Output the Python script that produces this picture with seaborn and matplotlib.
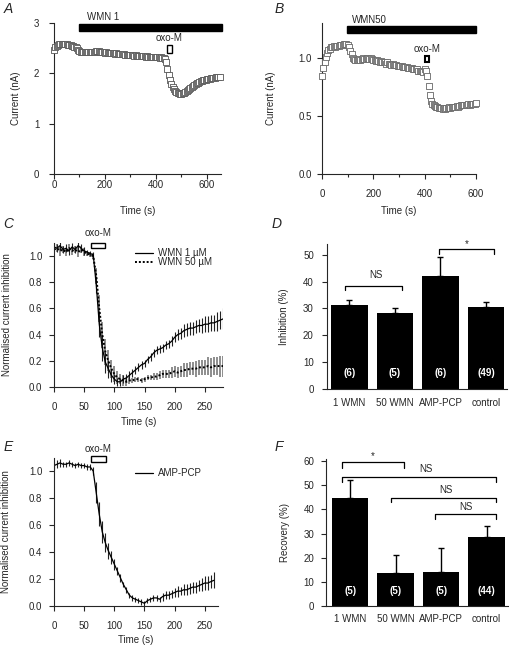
import numpy as np
import seaborn as sns
import matplotlib.pyplot as plt
from matplotlib.patches import Rectangle
from matplotlib.ticker import MultipleLocator

sns.set_style("ticks")
plt.rcParams['font.family'] = ['Liberation Sans', 'DejaVu Sans']
plt.rcParams['font.size'] = 7
plt.rcParams['axes.linewidth'] = 0.8

# ---- data ----
# A: WMN 1, current (nA), one sample every 5 s
a_time = np.arange(0, 651, 5)
a_current = [2.47, 2.52, 2.55, 2.57, 2.58, 2.59, 2.59, 2.59, 2.58, 2.58,
             2.58, 2.57, 2.57, 2.56, 2.55, 2.54, 2.53, 2.52, 2.50, 2.47,
             2.44, 2.43, 2.42, 2.42, 2.42, 2.42, 2.43, 2.42, 2.42, 2.42,
             2.42, 2.43, 2.43, 2.44, 2.45, 2.44, 2.43, 2.43, 2.42, 2.42,
             2.41, 2.42, 2.41, 2.40, 2.41, 2.40, 2.40, 2.40, 2.39, 2.40,
             2.39, 2.38, 2.39, 2.38, 2.38, 2.38, 2.37, 2.37, 2.37, 2.36,
             2.37, 2.36, 2.36, 2.35, 2.36, 2.35, 2.35, 2.34, 2.35, 2.34,
             2.34, 2.34, 2.33, 2.34, 2.33, 2.33, 2.33, 2.33, 2.32, 2.33,
             2.32, 2.32, 2.32, 2.31, 2.32, 2.31, 2.31, 2.29, 2.22, 2.08,
             1.96, 1.86, 1.78, 1.72, 1.68, 1.65, 1.62, 1.61, 1.60, 1.59,
             1.59, 1.60, 1.61, 1.63, 1.65, 1.67, 1.69, 1.71, 1.73, 1.75,
             1.77, 1.78, 1.80, 1.81, 1.82, 1.84, 1.85, 1.86, 1.87, 1.87,
             1.88, 1.89, 1.89, 1.90, 1.90, 1.91, 1.91, 1.92, 1.92, 1.93,
             1.93]

# B: WMN50, current (nA), one sample every 5 s
b_time = np.arange(0, 601, 5)
b_current = [0.84, 0.91, 0.96, 1.01, 1.04, 1.07, 1.08, 1.09, 1.09, 1.10,
             1.09, 1.10, 1.10, 1.10, 1.11, 1.11, 1.11, 1.12, 1.12, 1.12,
             1.11, 1.09, 1.06, 1.03, 1.00, 0.99, 0.98, 0.98, 0.98, 0.99,
             0.98, 0.99, 1.00, 0.99, 0.99, 1.00, 1.00, 0.99, 1.00, 0.99,
             0.98, 0.98, 0.97, 0.98, 0.97, 0.96, 0.97, 0.96, 0.96, 0.96,
             0.95, 0.96, 0.95, 0.95, 0.94, 0.95, 0.94, 0.94, 0.94, 0.93,
             0.93, 0.93, 0.93, 0.92, 0.92, 0.92, 0.92, 0.91, 0.91, 0.91,
             0.91, 0.90, 0.90, 0.90, 0.90, 0.89, 0.89, 0.89, 0.89, 0.88,
             0.90, 0.89, 0.84, 0.76, 0.68, 0.63, 0.60, 0.59, 0.585, 0.58,
             0.575, 0.57, 0.57, 0.565, 0.56, 0.565, 0.56, 0.565, 0.57, 0.575,
             0.57, 0.58, 0.575, 0.58, 0.58, 0.585, 0.58, 0.585, 0.59, 0.59,
             0.59, 0.595, 0.59, 0.595, 0.60, 0.595, 0.60, 0.60, 0.60, 0.605,
             0.61]

# C: normalised current inhibition, mean and s.e.m., every 5 s
c_time = np.arange(0, 281, 5)
c_wmn1 = [1.07, 1.06, 1.08, 1.05, 1.06, 1.04, 1.07, 1.05, 1.08, 1.06,
          1.04, 1.03, 1.02, 1.01, 0.78, 0.48, 0.30, 0.19, 0.14, 0.09,
          0.06, 0.04, 0.04, 0.06, 0.07, 0.09, 0.11, 0.13, 0.15, 0.17,
          0.18, 0.21, 0.23, 0.26, 0.28, 0.29, 0.30, 0.32, 0.33, 0.35,
          0.38, 0.40, 0.41, 0.43, 0.44, 0.45, 0.45, 0.46, 0.47, 0.47,
          0.48, 0.48, 0.49, 0.49, 0.50, 0.51, 0.52]
c_wmn1_err = [0.03, 0.03, 0.03, 0.03, 0.03, 0.03, 0.03, 0.03, 0.04, 0.03,
              0.03, 0.02, 0.02, 0.02, 0.06, 0.10, 0.10, 0.08, 0.07, 0.05,
              0.04, 0.03, 0.03, 0.03, 0.03, 0.03, 0.03, 0.03, 0.03, 0.03,
              0.03, 0.03, 0.03, 0.03, 0.03, 0.03, 0.03, 0.03, 0.03, 0.04,
              0.04, 0.04, 0.04, 0.05, 0.05, 0.05, 0.05, 0.05, 0.05, 0.06,
              0.06, 0.06, 0.06, 0.06, 0.07, 0.07, 0.08]
c_wmn50 = [1.05, 1.06, 1.04, 1.05, 1.03, 1.06, 1.04, 1.05, 1.03, 1.05,
           1.03, 1.02, 1.01, 1.00, 0.85, 0.60, 0.40, 0.27, 0.20, 0.14,
           0.10, 0.07, 0.06, 0.05, 0.04, 0.05, 0.05, 0.06, 0.06, 0.05,
           0.06, 0.07, 0.07, 0.08, 0.08, 0.09, 0.10, 0.10, 0.10, 0.11,
           0.12, 0.11, 0.12, 0.13, 0.13, 0.14, 0.14, 0.14, 0.15, 0.15,
           0.15, 0.16, 0.15, 0.16, 0.16, 0.16, 0.16]
c_wmn50_err = [0.03, 0.03, 0.04, 0.03, 0.03, 0.03, 0.03, 0.03, 0.04, 0.03,
               0.03, 0.02, 0.02, 0.02, 0.06, 0.10, 0.10, 0.10, 0.08, 0.07,
               0.06, 0.05, 0.04, 0.04, 0.03, 0.03, 0.02, 0.02, 0.02, 0.02,
               0.02, 0.02, 0.02, 0.03, 0.03, 0.03, 0.03, 0.03, 0.03, 0.04,
               0.04, 0.04, 0.04, 0.05, 0.05, 0.05, 0.05, 0.06, 0.06, 0.06,
               0.06, 0.07, 0.07, 0.07, 0.07, 0.08, 0.08]

# E: AMP-PCP, mean and s.e.m., every 5 s
e_time = np.arange(0, 266, 5)
e_amp = [1.04, 1.05, 1.06, 1.05, 1.05, 1.06, 1.05, 1.04, 1.05, 1.04,
         1.04, 1.03, 1.03, 1.00, 0.84, 0.68, 0.55, 0.47, 0.41, 0.36,
         0.31, 0.26, 0.21, 0.16, 0.12, 0.08, 0.06, 0.05, 0.04, 0.03,
         0.02, 0.04, 0.05, 0.06, 0.06, 0.05, 0.07, 0.08, 0.08, 0.09,
         0.10, 0.11, 0.11, 0.12, 0.12, 0.13, 0.14, 0.14, 0.15, 0.16,
         0.17, 0.17, 0.18, 0.19]
e_amp_err = [0.03, 0.03, 0.03, 0.02, 0.02, 0.02, 0.02, 0.02, 0.02, 0.02,
             0.02, 0.02, 0.02, 0.03, 0.08, 0.09, 0.08, 0.07, 0.06, 0.05,
             0.04, 0.03, 0.03, 0.02, 0.02, 0.02, 0.02, 0.02, 0.02, 0.02,
             0.02, 0.02, 0.02, 0.02, 0.02, 0.02, 0.03, 0.03, 0.03, 0.03,
             0.03, 0.04, 0.03, 0.04, 0.04, 0.04, 0.04, 0.04, 0.04, 0.05,
             0.05, 0.05, 0.05, 0.06]

# D / F: bar summaries
groups = ['1 WMN', '50 WMN', 'AMP-PCP', 'control']
inhibition = [31.3, 28.3, 42.0, 30.6]
inhibition_err = [1.7, 1.9, 7.2, 1.7]
inhibition_n = ['(6)', '(5)', '(6)', '(49)']
recovery = [44.5, 13.8, 14.0, 28.5]
recovery_err = [7.5, 7.5, 10.0, 4.5]
recovery_n = ['(5)', '(5)', '(5)', '(44)']

# ---- figure ----
W, H = 510, 646
fig = plt.figure(figsize=(W / 100, H / 100), dpi=100)


def px_axes(left, top, right, bottom):
    return fig.add_axes([left / W, 1 - bottom / H, (right - left) / W, (bottom - top) / H])


def style(ax, xpad=7.5, ypad=5):
    sns.despine(ax=ax)
    ax.tick_params(axis='both', which='major', direction='out', length=3.5, width=0.8, labelsize=7)
    ax.tick_params(axis='x', pad=xpad)
    ax.tick_params(axis='y', pad=ypad)
    ax.tick_params(which='minor', direction='out', length=2.5, width=0.8)


def bracket(ax, x0, x1, y, tip):
    ax.plot([x0, x0, x1, x1], [tip, y, y, tip], color='k', lw=0.9, clip_on=False)


def letter(x, y, s):
    fig.text(x / W, 1 - y / H, s, fontsize=10, style='italic', ha='center', va='center')


# A
ax = px_axes(54, 23, 221, 174)
sns.scatterplot(x=a_time, y=a_current, marker='s', s=13, color='white',
                edgecolor='#555555', linewidth=0.6, ax=ax, zorder=3, clip_on=False)
ax.set_xlim(0, 655)
ax.set_ylim(0, 3)
ax.xaxis.set_major_locator(MultipleLocator(200))
ax.xaxis.set_minor_locator(MultipleLocator(100))
ax.yaxis.set_major_locator(MultipleLocator(1))
style(ax, xpad=1, ypad=7)
ax.add_patch(Rectangle((98, 2.84), 561, 0.15, color='k', clip_on=False))
ax.text(128, 3.12, 'WMN 1', ha='left', va='center', fontsize=7)
ax.add_patch(Rectangle((443, 2.41), 18, 0.15, fill=False, ec='k', lw=1, clip_on=False, zorder=4))
ax.text(453, 2.71, 'oxo-M', ha='center', va='center', fontsize=7)
ax.set_xlabel('Time (s)')
ax.set_ylabel('Current (nA)')
ax.xaxis.set_label_coords(0.5, -0.21)
ax.yaxis.set_label_coords(-0.198, 0.5)

# B
ax = px_axes(322, 23, 476, 174)
sns.scatterplot(x=b_time, y=b_current, marker='s', s=13, color='white',
                edgecolor='#666666', linewidth=0.6, ax=ax, zorder=3, clip_on=False)
ax.set_xlim(0, 600)
ax.set_ylim(0, 1.3)
ax.xaxis.set_major_locator(MultipleLocator(200))
ax.xaxis.set_minor_locator(MultipleLocator(100))
ax.yaxis.set_major_locator(MultipleLocator(0.5))
ax.yaxis.set_major_formatter('{x:.1f}')
style(ax, xpad=7.5, ypad=4)
ax.add_patch(Rectangle((96, 1.218), 503, 0.058, color='k', clip_on=False))
ax.text(115, 1.33, 'WMN50', ha='left', va='center', fontsize=7)
ax.add_patch(Rectangle((400, 0.965), 16, 0.055, fill=False, ec='k', lw=1.5, clip_on=False, zorder=4))
ax.text(408, 1.075, 'oxo-M', ha='center', va='center', fontsize=7)
ax.set_xlabel('Time (s)')
ax.set_ylabel('Current (nA)')
ax.xaxis.set_label_coords(0.5, -0.21)
ax.yaxis.set_label_coords(-0.299, 0.5)

# C
ax = px_axes(54, 243, 223, 387)
ax.errorbar(c_time, c_wmn50, yerr=c_wmn50_err, fmt='none', ecolor='#7a7a7a', elinewidth=1.2)
ax.errorbar(c_time, c_wmn1, yerr=c_wmn1_err, fmt='none', ecolor='#222222', elinewidth=0.8)
sns.lineplot(x=c_time, y=c_wmn50, color='k', lw=1.4, linestyle=(0, (1, 1)), errorbar=None, ax=ax)
sns.lineplot(x=c_time, y=c_wmn1, color='k', lw=0.9, errorbar=None, ax=ax)
ax.set_xlim(0, 280)
ax.set_ylim(0, 1.1)
ax.xaxis.set_major_locator(MultipleLocator(50))
ax.yaxis.set_major_locator(MultipleLocator(0.2))
ax.yaxis.set_major_formatter('{x:.1f}')
style(ax, xpad=7, ypad=5)
ax.add_patch(Rectangle((62, 1.06), 22, 0.037, fill=False, ec='k', lw=1, clip_on=False))
ax.text(73, 1.173, 'oxo-M', ha='center', va='center', fontsize=7)
ax.plot([134, 164], [1.025, 1.025], color='k', lw=0.9)
ax.plot([134, 164], [0.952, 0.952], color='k', lw=1.4, linestyle=(0, (1, 1)))
ax.text(172, 1.025, 'WMN 1 µM', ha='left', va='center', fontsize=7)
ax.text(172, 0.952, 'WMN 50 µM', ha='left', va='center', fontsize=7)
ax.set_xlabel('Time (s)')
ax.set_ylabel('Normalised current inhibition')
ax.xaxis.set_label_coords(0.5, -0.208)
ax.yaxis.set_label_coords(-0.249, 0.5)

# D
ax = px_axes(327, 244, 507, 389)
sns.barplot(x=groups, y=inhibition, color='black', width=0.8, errorbar=None,
            linewidth=0, saturation=1, ax=ax)
ax.errorbar(range(4), inhibition, yerr=[[0] * 4, inhibition_err], fmt='none',
            ecolor='k', elinewidth=1, capsize=2.5, capthick=1)
for i, n in enumerate(inhibition_n):
    ax.text(i, 6, n, color='white', fontweight='bold', ha='center', va='center', fontsize=7)
ax.set_xlim(-0.49, 3.46)
ax.set_ylim(0, 54)
ax.yaxis.set_major_locator(MultipleLocator(10))
style(ax, xpad=6.5, ypad=6)
ax.tick_params(axis='x', length=0)
bracket(ax, -0.09, 1.16, 38.5, 36.7)
ax.text(0.59, 42.4, 'NS', ha='center', va='center', fontsize=7)
bracket(ax, 1.97, 3.18, 52, 50.4)
ax.text(2.57, 54, '*', ha='center', va='center', fontsize=7)
ax.set_ylabel('Inhibition (%)')
ax.set_xlabel('')
ax.yaxis.set_label_coords(-0.211, 0.5)

# E
ax = px_axes(54, 457.5, 218, 606)
ax.errorbar(e_time, e_amp, yerr=e_amp_err, fmt='none', ecolor='#222222', elinewidth=0.8)
sns.lineplot(x=e_time, y=e_amp, color='k', lw=0.9, errorbar=None, ax=ax)
ax.set_xlim(0, 272)
ax.set_ylim(0, 1.1)
ax.xaxis.set_major_locator(MultipleLocator(50))
ax.yaxis.set_major_locator(MultipleLocator(0.2))
ax.yaxis.set_major_formatter('{x:.1f}')
style(ax, xpad=7.5, ypad=5)
ax.add_patch(Rectangle((62, 1.064), 24, 0.047, fill=False, ec='k', lw=1, clip_on=False))
ax.text(73, 1.16, 'oxo-M', ha='center', va='center', fontsize=7)
ax.plot([134, 164], [0.983, 0.983], color='k', lw=0.9)
ax.text(172, 0.983, 'AMP-PCP', ha='left', va='center', fontsize=7)
ax.set_xlabel('Time (s)')
ax.set_ylabel('Normalised current inhibition')
ax.xaxis.set_label_coords(0.5, -0.195)
ax.yaxis.set_label_coords(-0.262, 0.5)

# F
ax = px_axes(326, 458.6, 508, 606)
sns.barplot(x=groups, y=recovery, color='black', width=0.8, errorbar=None,
            linewidth=0, saturation=1, ax=ax)
ax.errorbar(range(4), recovery, yerr=[[0] * 4, recovery_err], fmt='none',
            ecolor='k', elinewidth=1, capsize=2.5, capthick=1)
for i, n in enumerate(recovery_n):
    ax.text(i, 6.2, n, color='white', fontweight='bold', ha='center', va='center', fontsize=7)
ax.set_xlim(-0.53, 3.47)
ax.set_ylim(0, 61)
ax.yaxis.set_major_locator(MultipleLocator(10))
style(ax, xpad=5.4, ypad=5)
ax.tick_params(axis='x', length=0)
bracket(ax, -0.18, 1.19, 59.4, 57.2)
ax.text(0.5, 62, '*', ha='center', va='center', fontsize=7)
bracket(ax, -0.18, 3.21, 53.2, 51.4)
ax.text(1.67, 56.7, 'NS', ha='center', va='center', fontsize=7)
bracket(ax, 0.9, 3.21, 44.8, 42.9)
ax.text(2.11, 48, 'NS', ha='center', va='center', fontsize=7)
bracket(ax, 1.87, 3.21, 38.2, 36)
ax.text(2.55, 41.1, 'NS', ha='center', va='center', fontsize=7)
ax.set_ylabel('Recovery (%)')
ax.set_xlabel('')
ax.yaxis.set_label_coords(-0.198, 0.5)

letter(8, 9, 'A')
letter(279, 9, 'B')
letter(8, 224, 'C')
letter(277, 224, 'D')
letter(8, 447, 'E')
letter(279, 447, 'F')

fig.savefig('out.png', dpi=100)
